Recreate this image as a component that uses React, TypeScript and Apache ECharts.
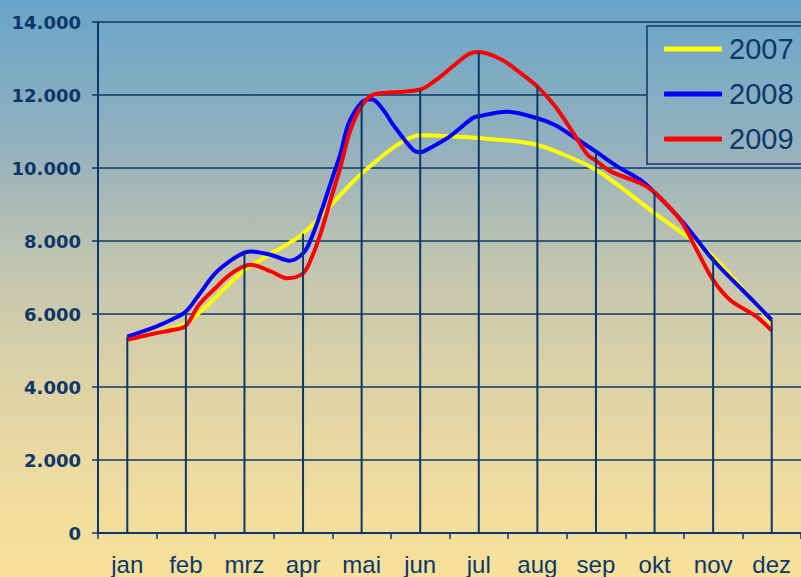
import React, { useEffect, useRef } from "react";
import * as echarts from "echarts";

const months = ["jan", "feb", "mrz", "apr", "mai", "jun", "jul", "aug", "sep", "okt", "nov", "dez"];
const seriesNames = ["2007", "2008", "2009"];

// 2007: monthly values
const v2007 = [5330, 5750, 7200, 8200, 9850, 10900, 10820, 10630, 9950, 8760, 7570, 5750];

// 2008: month position (0 = jan) and value
const x2008 = [0, 0.48, 0.77, 1, 1.22, 1.5, 1.78, 2, 2.12, 2.46, 2.77, 3, 3.13, 3.3, 3.47, 3.64, 3.78, 4, 4.17, 4.37, 4.54, 4.88, 5, 5.16, 5.5, 5.89, 6, 6.48, 7, 7.3, 7.64, 8, 8.37, 8.76, 9, 9.5, 10, 10.5, 11];
const v2008 = [5380, 5650, 5855, 6070, 6520, 7110, 7480, 7680, 7710, 7617, 7461, 7660, 8028, 8760, 9582, 10404, 11226, 11800, 11883, 11590, 11179, 10494, 10430, 10540, 10860, 11363, 11420, 11544, 11363, 11179, 10830, 10448, 10037, 9672, 9330, 8486, 7480, 6658, 5836];

// 2009
const x2009 = [0, 0.48, 0.77, 1, 1.22, 1.5, 1.78, 2.1, 2.46, 2.74, 3, 3.13, 3.3, 3.47, 3.64, 3.81, 4, 4.2, 4.43, 5, 5.27, 5.55, 5.83, 6, 6.4, 6.68, 7, 7.3, 7.62, 7.86, 8, 8.26, 8.76, 9, 9.44, 9.72, 10, 10.29, 10.74, 11];
const v2009 = [5290, 5471, 5562, 5680, 6247, 6705, 7115, 7350, 7160, 6979, 7115, 7480, 8212, 9124, 10037, 11042, 11700, 12010, 12064, 12150, 12412, 12777, 13125, 13180, 12960, 12640, 12230, 11700, 10940, 10357, 10200, 9900, 9582, 9330, 8576, 7754, 6932, 6384, 5927, 5543];

const NAVY = "#0c3769";

function valueAt(xs: number[], vs: number[], m: number): number {
  const i = xs.indexOf(m);
  return i >= 0 ? vs[i] : 0;
}

function fmt(v: number): string {
  return String(v).replace(/\B(?=(\d{3})+(?!\d))/g, ".");
}

export default function App() {
  const ref = useRef<HTMLDivElement>(null);

  useEffect(() => {
    if (!ref.current) return;
    const chart = echarts.init(ref.current, undefined, { renderer: "svg" });

    const dropValues = months.map((_, i) =>
      Math.max(v2007[i], valueAt(x2008, v2008, i), valueAt(x2009, v2009, i))
    );

    const option: any = {
      animation: false,
      backgroundColor: "transparent",
      grid: { left: 98, top: 22, width: 710, height: 511, containLabel: false },
      legend: {
        data: seriesNames,
        orient: "vertical",
        left: 647,
        top: 26,
        padding: [8, 30, 10, 17],
        itemGap: 15,
        itemWidth: 58,
        itemHeight: 5,
        icon: "roundRect",
        borderColor: NAVY,
        borderWidth: 1.5,
        backgroundColor: new echarts.graphic.LinearGradient(0, 0, 0, 1, [
          { offset: 0, color: "#6fa7c8" },
          { offset: 1, color: "#9bb3bb" },
        ]),
        textStyle: {
          color: NAVY,
          fontFamily: "Liberation Sans, Arial, sans-serif",
          fontSize: 29,
          lineHeight: 30,
          padding: [0, 0, 0, 2],
        },
      },
      xAxis: [
        {
          type: "category",
          data: months,
          boundaryGap: true,
          axisLine: { show: true, onZero: false, lineStyle: { color: NAVY, width: 2 } },
          axisTick: { show: true, alignWithLabel: false, length: 6, lineStyle: { color: NAVY, width: 1.5 } },
          axisLabel: {
            interval: 0,
            margin: 19,
            color: NAVY,
            fontFamily: "Liberation Sans, Arial, sans-serif",
            fontSize: 24,
          },
          splitLine: { show: false },
        },
        {
          type: "value",
          min: -0.5,
          max: 11.5,
          show: false,
        },
      ],
      yAxis: {
        type: "value",
        min: 0,
        max: 14000,
        interval: 2000,
        axisLine: { show: true, onZero: false, lineStyle: { color: NAVY, width: 2 } },
        axisTick: { show: true, length: 6, lineStyle: { color: NAVY, width: 1.5 } },
        axisLabel: {
          margin: 17,
          color: NAVY,
          fontFamily: "DejaVu Sans, sans-serif",
          fontWeight: "bold",
          fontSize: 18,
          formatter: (v: number) => fmt(v),
        },
        splitLine: { show: true, lineStyle: { color: NAVY, width: 1.5 } },
      },
      series: [
        {
          name: "2007",
          type: "line",
          xAxisIndex: 1,
          data: v2007.map((v, i) => [i, v]),
          smooth: 0.25,
          showSymbol: false,
          lineStyle: { color: "#ffff00", width: 4 },
          itemStyle: { color: "#ffff00" },
          z: 2,
        },
        {
          name: "2008",
          type: "line",
          xAxisIndex: 1,
          data: x2008.map((x, i) => [x, v2008[i]]),
          smooth: 0.35,
          showSymbol: false,
          lineStyle: { color: "#0000ff", width: 4 },
          itemStyle: { color: "#0000ff" },
          z: 3,
        },
        {
          name: "2009",
          type: "line",
          xAxisIndex: 1,
          data: x2009.map((x, i) => [x, v2009[i]]),
          smooth: 0.35,
          showSymbol: false,
          lineStyle: { color: "#ff0000", width: 4 },
          itemStyle: { color: "#ff0000" },
          z: 4,
        },
        {
          name: "drop",
          type: "bar",
          xAxisIndex: 0,
          data: dropValues,
          barWidth: 2,
          itemStyle: { color: NAVY },
          silent: true,
          z: 5,
        },
      ],
    };

    chart.setOption(option);
    return () => chart.dispose();
  }, []);

  return (
    <div
      style={{
        position: "fixed",
        left: 0,
        top: 0,
        width: 801,
        height: 577,
        overflow: "hidden",
        background:
          "linear-gradient(to bottom, #68a5ca 0%, #93b0bd 25%, #c0c4b0 45%, #d9d0a8 62%, #ebd9a0 80%, #f9e19a 100%)",
      }}
    >
      <div ref={ref} style={{ width: 801, height: 577 }} />
    </div>
  );
}
